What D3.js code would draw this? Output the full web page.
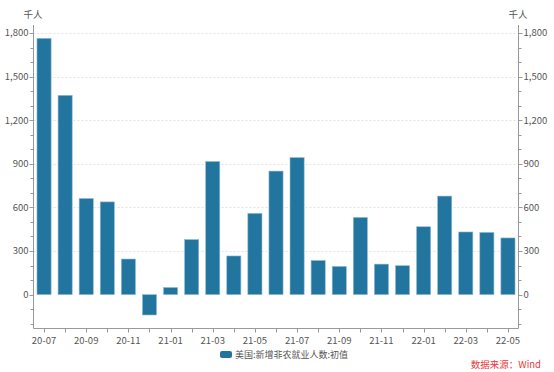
<!DOCTYPE html>
<html><head><meta charset="utf-8">
<script src="https://cdn.jsdelivr.net/npm/d3@7"></script>
<style>body{margin:0;background:#fff}svg{display:block}text{font-family:"Noto Sans CJK SC","Noto Sans",sans-serif}</style>
</head><body><svg id="c" width="554" height="372"></svg>
<script>
const months = ["20-07","20-08","20-09","20-10","20-11","20-12","21-01","21-02","21-03","21-04","21-05","21-06","21-07","21-08","21-09","21-10","21-11","21-12","22-01","22-02","22-03","22-04","22-05"];
const values = [1763,1371,661,638,245,-140,49,379,916,266,559,850,943,235,194,531,210,199,467,678,431,428,390];
const yTicks = [0,300,600,900,1200,1500,1800];
const seriesName = "美国:新增非农就业人数:初值";
const unit = "千人";
const source = "数据来源：Wind";

const svg = d3.select("#c");
const L = 33.5, R = 518.5, T = 25, B = 328.5;
const x = d3.scaleBand().domain(months).range([L, R]).paddingInner(0.33).paddingOuter(0.165);
const y = d3.scaleLinear().domain([-233, 1855]).range([B, T]);
const gridC = "#e2e2e2", axC = "#999", txtC = "#555";

// grid
svg.append("g").selectAll("line").data(yTicks.filter(d=>d>0)).join("line")
  .attr("x1", L).attr("x2", R).attr("y1", d=>Math.round(y(d))+0.5).attr("y2", d=>Math.round(y(d))+0.5)
  .attr("stroke", gridC).attr("stroke-dasharray", "2,2");

// bars
svg.append("g").selectAll("rect").data(values).join("rect")
  .attr("x", (d,i)=>x(months[i])).attr("width", x.bandwidth())
  .attr("y", d=>y(Math.max(0,d))).attr("height", d=>Math.abs(y(d)-y(0)))
  .attr("fill", "#22759e").attr("stroke", "#8fbcd4").attr("stroke-width", 0.6);

// minor ticks
const minor = d3.range(-200, 1801, 100).filter(v=>v%300!==0);
function yAxis(xpos, dir){
  const g = svg.append("g");
  g.append("line").attr("x1", xpos).attr("x2", xpos).attr("y1", T).attr("y2", B).attr("stroke", axC);
  g.selectAll(".mt").data(minor).join("line")
    .attr("x1", xpos).attr("x2", xpos+dir*3).attr("y1", d=>Math.round(y(d))+0.5).attr("y2", d=>Math.round(y(d))+0.5).attr("stroke", axC);
  g.selectAll(".Mt").data(yTicks).join("line")
    .attr("x1", xpos).attr("x2", xpos+dir*4).attr("y1", d=>Math.round(y(d))+0.5).attr("y2", d=>Math.round(y(d))+0.5).attr("stroke", axC);
  g.selectAll("text").data(yTicks).join("text")
    .attr("x", xpos+dir*5).attr("y", d=>y(d)).attr("dy","0.35em")
    .attr("text-anchor", dir<0?"end":"start").attr("font-size", 9.5).attr("fill", txtC)
    .text(d=>d3.format(",")(d));
}
yAxis(L, -1);
yAxis(R, 1);

// x axis
const gx = svg.append("g");
gx.append("line").attr("x1", L).attr("x2", R).attr("y1", B).attr("y2", B).attr("stroke", axC);
gx.selectAll("line.t").data(months).join("line")
  .attr("x1", d=>Math.round(x(d)+x.bandwidth()/2)+0.5).attr("x2", d=>Math.round(x(d)+x.bandwidth()/2)+0.5)
  .attr("y1", B).attr("y2", B+4).attr("stroke", axC);
gx.selectAll("text").data(months.filter((d,i)=>i%2===0)).join("text")
  .attr("x", d=>x(d)+x.bandwidth()/2).attr("y", B+15).attr("text-anchor","middle")
  .attr("font-size", 9.5).attr("fill", txtC).text(d=>d);

// unit labels
svg.append("text").attr("x", 33).attr("y", 18).attr("text-anchor","middle").attr("font-size", 9.5).attr("fill", txtC).text(unit);
svg.append("text").attr("x", 518).attr("y", 18).attr("text-anchor","middle").attr("font-size", 9.5).attr("fill", txtC).text(unit);

// legend
svg.append("rect").attr("x", 220).attr("y", 351).attr("width", 12).attr("height", 7).attr("rx", 2).attr("fill", "#22759e");
svg.append("text").attr("x", 235).attr("y", 358).attr("font-size", 9).attr("fill", txtC).text(seriesName);

// source
svg.append("text").attr("x", 541).attr("y", 368).attr("text-anchor","end").attr("font-size", 9.5).attr("fill", "#e8383d").text(source);
</script></body></html>
